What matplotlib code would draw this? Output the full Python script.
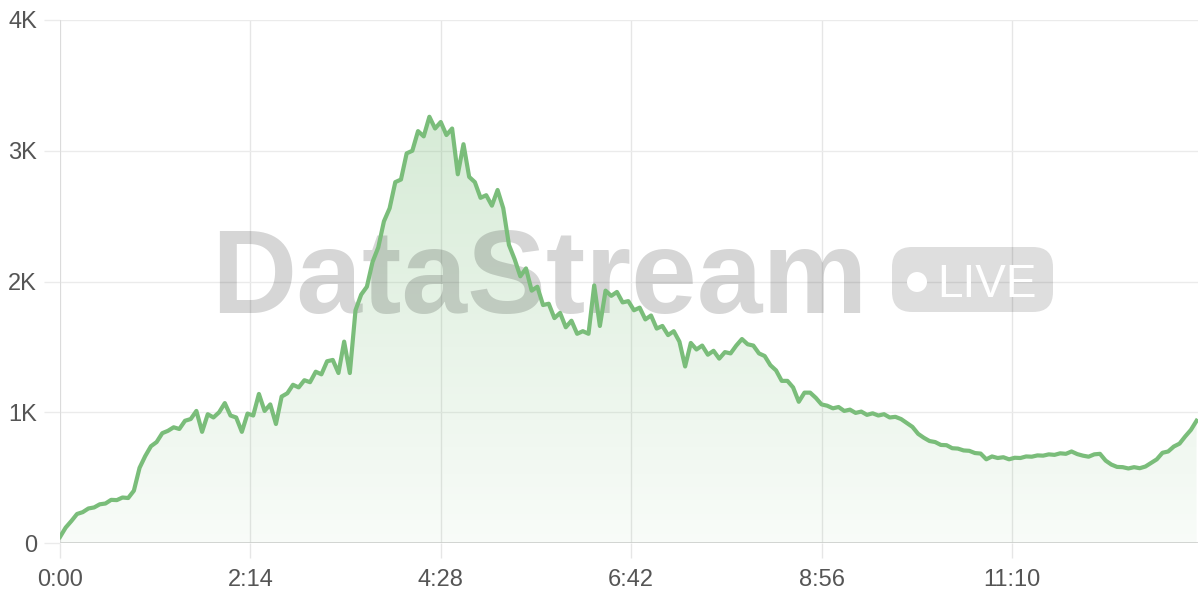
import numpy as np
import matplotlib
matplotlib.use("Agg")
import matplotlib.pyplot as plt
from matplotlib.patches import FancyBboxPatch, Circle

# viewers, sampled every 4 seconds (0:00 .. 13:20)
seconds = np.arange(0, 801, 4)
viewers = [
    46, 118, 168, 222, 236, 264, 272, 296, 302, 330, 328, 348, 344,
    400, 575, 665, 740, 772, 840, 858, 885, 872, 935, 948, 1010, 850,
    985, 960, 1000, 1070, 975, 960, 850, 990, 975, 1140, 1010, 1060, 910,
    1120, 1145, 1210, 1190, 1245, 1230, 1310, 1290, 1390, 1400, 1300, 1540, 1300, 1780,
    1900, 1960, 2150, 2260, 2460, 2560, 2760, 2780, 2980, 3000, 3150, 3110, 3260, 3170, 3220, 3120, 3170,
    2820, 3050, 2800, 2760, 2640, 2660, 2580, 2700, 2560, 2280, 2170, 2040, 2100, 1930, 1960, 1820,
    1830, 1720, 1760, 1650, 1700, 1600, 1620, 1600,
    1970, 1660, 1930, 1890, 1920, 1840, 1850, 1780, 1800, 1710, 1740, 1640, 1660, 1590, 1620, 1540, 1350,
    1530, 1480, 1510, 1440, 1470, 1410, 1460, 1450, 1510, 1560, 1520, 1510, 1450, 1430, 1360, 1320,
    1240, 1240, 1190, 1080, 1150, 1150,
    1110, 1060, 1050, 1030, 1040, 1010, 1020, 995, 1005, 980, 992, 975, 985, 960, 965, 948,
    918, 888, 835, 805, 780, 772, 750, 748, 725, 722, 708, 705, 688, 684, 640, 662, 650,
    656, 640, 652, 650, 662, 660, 670, 668, 678, 674, 686, 682, 700, 680, 668, 660, 678, 682,
    630, 600, 582, 580, 570, 580, 572, 585, 612, 640, 690, 700, 738, 760, 815, 865, 935,
]

x_ticks = [0, 134, 268, 402, 536, 670]
x_labels = ["0:00", "2:14", "4:28", "6:42", "8:56", "11:10"]
y_ticks = [0, 1000, 2000, 3000, 4000]
y_labels = ["0", "1K", "2K", "3K", "4K"]

green = "#7abd7a"
label_font = "Liberation Sans"

fig = plt.figure(figsize=(12, 6), dpi=100)
ax = fig.add_axes([60 / 1200, 57 / 600, 1138 / 1200, 523 / 600])
ax.set_xlim(0, 801)
ax.set_ylim(0, 4000)

# gradient fill under the line (strong at the top, fading to the bottom)
fill = ax.fill_between(seconds, viewers, 0, color="none", lw=0, zorder=1)
top = max(viewers)
grad = np.zeros((256, 1, 4))
grad[:, 0, 0] = 0.47
grad[:, 0, 1] = 0.74
grad[:, 0, 2] = 0.47
grad[:, 0, 3] = np.linspace(0.30, 0.05, 256)
img = ax.imshow(grad, extent=[0, 801, 0, top], origin="upper", aspect="auto",
                zorder=1, interpolation="bilinear")
img.set_clip_path(fill.get_paths()[0], transform=ax.transData)
ax.set_xlim(0, 801)
ax.set_ylim(0, 4000)

ax.plot(seconds, viewers, color=green, lw=3.0, zorder=3)

# watermark
ax.text(211 / 1200, 1 - 313 / 600, "DataStream", transform=fig.transFigure,
        ha="left", va="baseline", fontsize=85, fontweight="bold",
        family=label_font, color="black", alpha=0.16, zorder=2)
badge = FancyBboxPatch((8.92, 2.88), 1.61, 0.65,
                       boxstyle="round,pad=0,rounding_size=0.2",
                       transform=fig.dpi_scale_trans, facecolor="black",
                       alpha=0.13, edgecolor="none", zorder=2)
ax.add_patch(badge)
badge.set_clip_on(False)
dot = Circle((9.17, 3.18), 0.10, transform=fig.dpi_scale_trans,
             facecolor="white", edgecolor="none", zorder=2.1)
ax.add_patch(dot)
dot.set_clip_on(False)
ax.text(9.37, 3.03, "LIVE", transform=fig.dpi_scale_trans, ha="left",
        va="baseline", fontsize=33, family=label_font, color="white",
        zorder=2.1)

# axes styling
for s in ax.spines.values():
    s.set_visible(False)
ax.set_xticks(x_ticks)
ax.set_xticklabels(x_labels)
ax.set_yticks(y_ticks)
ax.set_yticklabels(y_labels)
ax.tick_params(axis="y", length=11.5, width=1, color="#ebebeb", pad=5,
               labelsize=17, labelcolor="#555555")
ax.tick_params(axis="x", length=11, width=1, color="#e6e6e6", pad=8,
               labelsize=17, labelcolor="#555555")
for lab in ax.get_xticklabels() + ax.get_yticklabels():
    lab.set_family(label_font)
ax.grid(axis="y", color="#ebebeb", lw=1)
ax.grid(axis="x", color="#e6e6e6", lw=1)
ax.set_axisbelow(True)
ax.axhline(0, color="#d0d0d0", lw=1.2, zorder=0.6)
ax.axvline(0, color="#d9d9d9", lw=1.2, zorder=0.6)

fig.savefig("out.png", dpi=100)
